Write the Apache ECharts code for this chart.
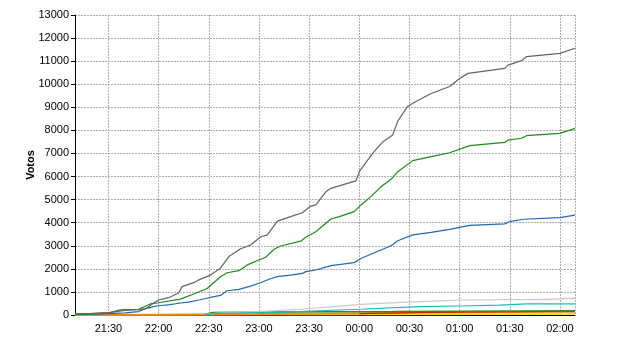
<!DOCTYPE html>
<html>
<head>
<meta charset="utf-8">
<script src="https://cdn.jsdelivr.net/npm/echarts@6/dist/echarts.min.js"></script>
<style>
html,body{margin:0;padding:0;background:#fff;}
#chart{width:640px;height:350px;}
</style>
</head>
<body>
<div id="chart"></div>
<script>
// ---- data ----
const xTickLabels = ['21:30','22:00','22:30','23:00','23:30','00:00','00:30','01:00','01:30','02:00'];
const axisStart = '21:10';
const axisEnd = '02:09';
const yName = 'Votos';

const grayTimes = ['21:10','21:20','21:30','21:40','21:49','21:53','21:57','22:00','22:06','22:12','22:14','22:21','22:24','22:31','22:37','22:42','22:49','22:55','23:01','23:05','23:11','23:19','23:26','23:31','23:34','23:40','23:43','23:58','00:00','00:08','00:14','00:20','00:23','00:29','00:33','00:43','00:54','01:00','01:05','01:27','01:29','01:37','01:40','02:00','02:09'];
const grayVotes = [50,70,100,200,230,300,520,650,750,950,1230,1400,1520,1730,2030,2530,2870,3030,3380,3470,4070,4260,4430,4720,4770,5340,5490,5810,6210,7000,7500,7800,8400,9050,9220,9600,9900,10250,10470,10690,10830,11020,11200,11340,11560];

const greenTimes = ['21:10','21:20','21:31','21:37','21:48','21:55','22:00','22:13','22:21','22:29','22:37','22:41','22:48','22:53','23:04','23:09','23:13','23:25','23:28','23:34','23:43','23:48','23:57','00:01','00:07','00:13','00:19','00:23','00:32','00:43','00:54','01:06','01:27','01:29','01:37','01:40','02:00','02:09'];
const greenVotes = [30,50,100,220,250,480,530,690,910,1150,1660,1830,1920,2170,2500,2850,2990,3200,3370,3610,4160,4260,4480,4770,5130,5560,5880,6210,6690,6860,7030,7340,7480,7580,7660,7770,7870,8090];

const blueTimes = ['21:10','21:20','21:30','21:40','21:48','21:53','21:57','22:00','22:07','22:13','22:18','22:24','22:31','22:37','22:41','22:48','22:55','23:01','23:06','23:11','23:19','23:26','23:28','23:34','23:43','23:57','00:01','00:09','00:19','00:23','00:32','00:43','00:54','01:06','01:27','01:30','01:38','02:00','02:09'];
const blueVotes = [20,40,60,90,150,290,360,400,450,520,560,650,760,850,1050,1110,1250,1400,1550,1660,1730,1800,1880,1950,2140,2270,2450,2700,3000,3220,3470,3580,3710,3880,3950,4050,4150,4220,4330];

const lightTimes = ['22:28','22:35','23:05','23:25','23:45','00:01','00:25','00:37','01:00','01:50','02:09'];
const lightVotes = [30,80,170,250,360,460,550,580,650,680,720];

const cyanTimes = ['22:28','22:35','23:05','00:01','00:25','00:37','01:00','01:24','01:40','02:09'];
const cyanVotes = [20,70,100,250,330,360,390,430,480,480];

const dkgreenTimes = ['22:28','22:32','23:30','00:20','01:00','02:09'];
const dkgreenVotes = [20,110,140,150,165,185];

const orangeTimes = ['21:10','22:00','23:00','00:00','01:00','02:09'];
const orangeVotes = [5,15,40,80,120,140];

const redTimes = ['00:00','00:30','01:00','02:09'];
const redVotes = [60,100,120,170];

const yellowTimes = ['21:10','23:00','00:30','02:09'];
const yellowVotes = [0,10,25,40];

// ---- build ----
// x values are minutes counted from 21:00
function toMin(s) {
  const [h, m] = s.split(':').map(Number);
  return (h >= 12 ? h - 21 : h + 3) * 60 + m;
}
function pad(n) { return (n < 10 ? '0' : '') + n; }
function fromMin(v) {
  const t = Math.round(v) + 21 * 60;
  return pad(Math.floor(t / 60) % 24) + ':' + pad(t % 60);
}
function pairs(times, votes) { return times.map((t, i) => [toMin(t), votes[i]]); }
const tickValues = xTickLabels.map(toMin);

const seriesDefs = [
  {name: 'yellow', times: yellowTimes, votes: yellowVotes, color: '#f2cf1a', w: 1.5},
  {name: 'orange', times: orangeTimes, votes: orangeVotes, color: '#f08a0c', w: 2},
  {name: 'red', times: redTimes, votes: redVotes, color: '#d81c10', w: 1.2},
  {name: 'dkgreen', times: dkgreenTimes, votes: dkgreenVotes, color: '#2e8b2e', w: 1.5},
  {name: 'light', times: lightTimes, votes: lightVotes, color: '#cfc6cc', w: 1.2},
  {name: 'cyan', times: cyanTimes, votes: cyanVotes, color: '#1cbcbc', w: 1.2},
  {name: 'blue', times: blueTimes, votes: blueVotes, color: '#2468b4', w: 1.2},
  {name: 'green', times: greenTimes, votes: greenVotes, color: '#1c8c1c', w: 1.2},
  {name: 'gray', times: grayTimes, votes: grayVotes, color: '#646464', w: 1.2}
];

const chart = echarts.init(document.getElementById('chart'), null, {renderer: 'canvas'});
const font = 'Liberation Sans, Arial, sans-serif';
const gridLine = {color: '#b4acb4', type: [2, 1], width: 1};
chart.setOption({
  animation: false,
  backgroundColor: '#fff',
  grid: {left: 75, right: 65, top: 15, bottom: 35, containLabel: false},
  xAxis: {
    type: 'value',
    min: toMin(axisStart),
    max: toMin(axisEnd),
    axisLine: {show: true, onZero: false, lineStyle: {color: '#000', width: 1}},
    axisTick: {show: false, customValues: tickValues.concat([toMin(axisEnd)])},
    axisLabel: {
      color: '#000', fontFamily: font, fontSize: 11, margin: 8,
      customValues: tickValues,
      formatter: function (v) { return fromMin(v); }
    },
    splitLine: {show: true, lineStyle: gridLine}
  },
  yAxis: {
    type: 'value',
    min: 0, max: 13000, interval: 1000,
    name: yName,
    nameLocation: 'middle',
    nameGap: 39,
    nameMoveOverlap: false,
    nameTextStyle: {color: '#000', fontFamily: font, fontSize: 11, fontWeight: 'bold'},
    axisLine: {show: true, lineStyle: {color: '#000', width: 1}},
    axisTick: {show: true, length: 4, lineStyle: {color: '#000'}},
    axisLabel: {color: '#000', fontFamily: font, fontSize: 11, margin: 6,
      formatter: function (v) { return String(v); }},
    splitLine: {show: true, lineStyle: gridLine}
  },
  series: seriesDefs.map(s => ({
    name: s.name,
    type: 'line',
    data: pairs(s.times, s.votes),
    showSymbol: false,
    symbol: 'none',
    color: s.color,
    lineStyle: {color: s.color, width: s.w},
    clip: true
  }))
});
</script>
</body>
</html>
